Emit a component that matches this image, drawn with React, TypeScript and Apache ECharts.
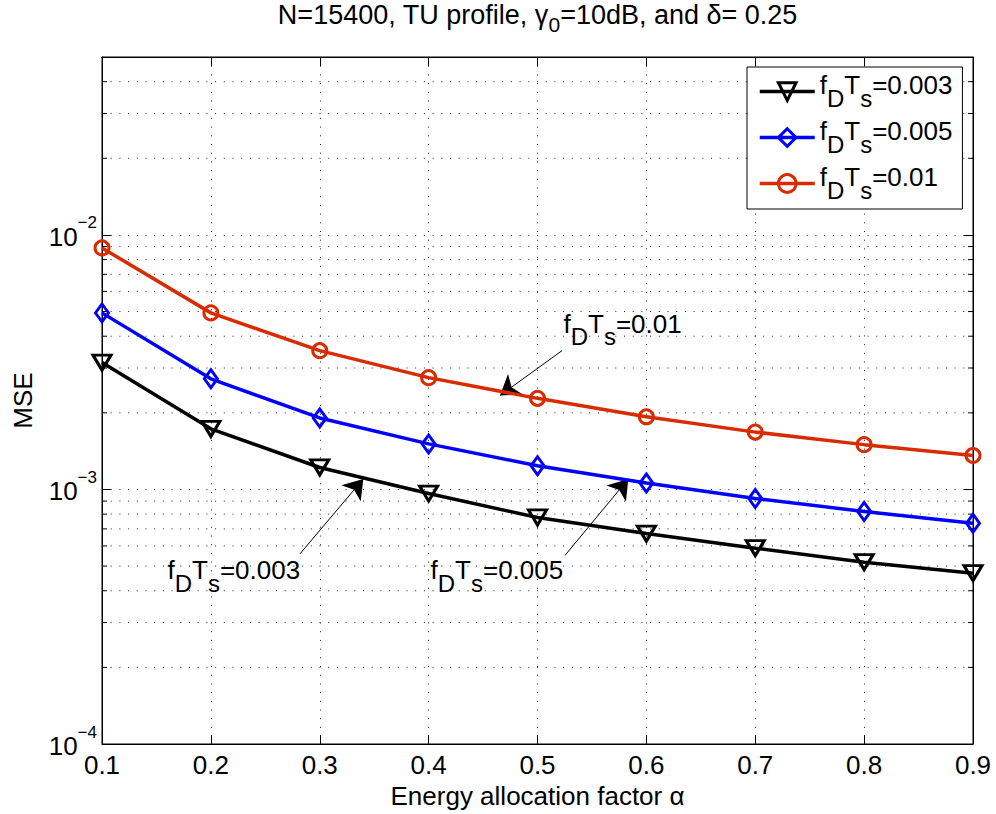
import React, { useEffect, useRef } from "react";
import * as echarts from "echarts";

const ALPHA = [0.1, 0.2, 0.3, 0.4, 0.5, 0.6, 0.7, 0.8, 0.9];
const MSE_003 = [0.00315, 0.00173, 0.00122, 0.000964, 0.000776, 0.000671, 0.000588, 0.000518, 0.000469];
const MSE_005 = [0.00494, 0.00272, 0.00191, 0.00151, 0.00124, 0.00106, 0.000922, 0.00082, 0.000736];
const MSE_01 = [0.00889, 0.00494, 0.00351, 0.00275, 0.00228, 0.00193, 0.00168, 0.0015, 0.00136];
const SERIES_NAMES = ["fDTs=0.003", "fDTs=0.005", "fDTs=0.01"];
const SERIES_VALUES_TEXT = ["0.003", "0.005", "0.01"];
const Y_MIN = 1e-4;
const Y_MAX = 0.05;
const MINOR_GRID = [
  2e-4, 3e-4, 4e-4, 5e-4, 6e-4, 7e-4, 8e-4, 9e-4,
  2e-3, 3e-3, 4e-3, 5e-3, 6e-3, 7e-3, 8e-3, 9e-3,
  2e-2, 3e-2, 4e-2,
];
const TITLE_A = "N=15400, TU profile, γ";
const TITLE_SUB = "0";
const TITLE_B = "=10dB, and δ= 0.25";
const X_NAME = "Energy allocation factor α";
const Y_NAME = "MSE";

const FONT = "'Liberation Sans', Arial, Helvetica, sans-serif";
const COLORS = ["#000000", "#0000ff", "#d92b00"];

const richFD = {
  m: { fontSize: 26, lineHeight: 26, padding: [0, 0, 13, 0], fontFamily: FONT, color: "#000" },
  s: { fontSize: 24, lineHeight: 26, padding: [13, 0, 0, 0], fontFamily: FONT, color: "#000" },
};
const fdText = (v: string) => `{m|f}{s|D}{m|T}{s|s}{m|=${v}}`;

export default function App() {
  const ref = useRef<HTMLDivElement>(null);
  useEffect(() => {
    if (!ref.current) return;
    const chart = echarts.init(ref.current, undefined, { renderer: "svg" });
    const dotted = { color: "#222", width: 1, type: [1, 7.7] as any };

    const makeSeries = (i: number, values: number[], symbol: string, size: any, rotate: number) => ({
      name: SERIES_NAMES[i],
      type: "line",
      data: ALPHA.map((a, k) => [a, values[k]]),
      symbol,
      symbolSize: size,
      symbolRotate: rotate,
      showAllSymbol: true,
      lineStyle: { color: COLORS[i], width: 3.5 },
      itemStyle: { color: "rgba(255,255,255,0)", borderColor: COLORS[i], borderWidth: 3 },
      z: 5 + i,
    });

    const s003: any = makeSeries(0, MSE_003, "triangle", [18, 15], 180);
    const s005: any = makeSeries(1, MSE_005, "diamond", [13, 18], 0);
    const s01: any = makeSeries(2, MSE_01, "circle", 14, 0);

    const arrow = (from: number[], to: number[]) => [{ coord: from }, { coord: to }];
    const annLabel = (v: string) => ({
      show: true,
      position: "right",
      distance: 0,
      offset: [0, 6.5],
      formatter: fdText(v),
      rich: richFD,
    });
    const markLineCommon = {
      silent: true,
      symbol: ["none", "arrow"],
      symbolSize: 19,
      lineStyle: { color: "#000", width: 1, type: "solid" },
      itemStyle: { color: "#000" },
      label: { show: false },
      animation: false,
    };
    const markPointCommon = {
      silent: true,
      symbol: "circle",
      symbolSize: 1,
      itemStyle: { color: "rgba(0,0,0,0)" },
      animation: false,
    };

    s01.markLine = { ...markLineCommon, data: [arrow([0.5225, 0.00351], [0.4656, 0.00234])] };
    s01.markPoint = { ...markPointCommon, label: annLabel(SERIES_VALUES_TEXT[2]), data: [{ coord: [0.5234, 0.00448] }] };
    s003.markLine = { ...markLineCommon, data: [arrow([0.2819, 0.000559], [0.34, 0.0011])] };
    s003.markPoint = { ...markPointCommon, label: annLabel(SERIES_VALUES_TEXT[0]), data: [{ coord: [0.1597, 0.000481] }] };
    s005.markLine = { ...markLineCommon, data: [arrow([0.5253, 0.000551], [0.5834, 0.0011])] };
    s005.markPoint = { ...markPointCommon, label: annLabel(SERIES_VALUES_TEXT[1]), data: [{ coord: [0.4013, 0.000481] }] };

    const minorSeries = {
      type: "custom",
      silent: true,
      z: 1,
      coordinateSystem: "cartesian2d",
      data: MINOR_GRID.map((v) => [0.5, v]),
      renderItem: (params: any, api: any) => {
        const y = api.coord([api.value(0), api.value(1)])[1];
        const cs = params.coordSys;
        return {
          type: "group",
          children: [
            { type: "line", shape: { x1: cs.x, y1: y, x2: cs.x + cs.width, y2: y }, style: { stroke: "#222", lineWidth: 1, lineDash: [1, 7.7] } },
            { type: "line", shape: { x1: cs.x, y1: y, x2: cs.x + 5, y2: y }, style: { stroke: "#000", lineWidth: 1 } },
            { type: "line", shape: { x1: cs.x + cs.width - 5, y1: y, x2: cs.x + cs.width, y2: y }, style: { stroke: "#000", lineWidth: 1 } },
          ],
        };
      },
    };

    const yLabelFmt = (v: number) => {
      const e = Math.round(Math.log10(v));
      if (Math.abs(v - Math.pow(10, e)) / v > 1e-6) return "";
      return `{b|10}{s|−${-e}}`;
    };

    chart.setOption({
      animation: false,
      textStyle: { fontFamily: FONT },
      graphic: [
        {
          type: "text",
          x: 537.5,
          y: 6,
          style: {
            text: `{t|${TITLE_A}}{ts|${TITLE_SUB}}{t|${TITLE_B}}`,
            align: "center",
            verticalAlign: "top",
            rich: {
              t: { fontSize: 27, lineHeight: 27, padding: [0, 0, 10, 0], fontFamily: FONT, fill: "#000", color: "#000" },
              ts: { fontSize: 21, lineHeight: 21, padding: [10, 0, 0, 0], fontFamily: FONT, fill: "#000", color: "#000" },
            },
          },
        },
      ],
      grid: { left: 102, right: 23, top: 57, bottom: 70, show: true, borderColor: "#000", borderWidth: 1 },
      legend: {
        data: SERIES_NAMES,
        left: 747,
        top: 67,
        orient: "vertical",
        padding: [5, 10, 6, 11],
        itemGap: 7,
        itemWidth: 55,
        itemHeight: 22,
        lineStyle: { width: 3.5 },
        itemStyle: { borderWidth: 3 },
        backgroundColor: "#fff",
        borderColor: "#000",
        borderWidth: 1,
        borderRadius: 0,
        selectedMode: false,
        formatter: (name: string) => fdText(SERIES_VALUES_TEXT[SERIES_NAMES.indexOf(name)]),
        textStyle: { rich: richFD },
      },
      xAxis: [
        {
          type: "value",
          min: 0.1,
          max: 0.9,
          interval: 0.1,
          name: X_NAME,
          nameLocation: "middle",
          nameGap: 38,
          nameTextStyle: { fontSize: 26, color: "#000", fontFamily: FONT },
          axisLine: { lineStyle: { color: "#000", width: 1 } },
          axisTick: { inside: true, length: 9, lineStyle: { color: "#000" } },
          axisLabel: { fontSize: 26, color: "#000", margin: 8, formatter: (v: number) => v.toFixed(1), fontFamily: FONT },
          splitLine: { show: true, lineStyle: dotted },
        },
        {
          type: "value",
          position: "top",
          min: 0.1,
          max: 0.9,
          interval: 0.1,
          axisLine: { lineStyle: { color: "#000", width: 1 } },
          axisTick: { inside: true, length: 9, lineStyle: { color: "#000" } },
          axisLabel: { show: false },
          splitLine: { show: false },
        },
      ],
      yAxis: [
        {
          type: "log",
          logBase: 10,
          min: Y_MIN,
          max: Y_MAX,
          name: Y_NAME,
          nameLocation: "middle",
          nameGap: 66,
          nameTextStyle: { fontSize: 26, color: "#000", fontFamily: FONT },
          axisLine: { show: true, lineStyle: { color: "#000", width: 1 } },
          axisTick: { inside: true, length: 9, lineStyle: { color: "#000" } },
          axisLabel: {
            margin: 5,
            formatter: yLabelFmt,
            showMaxLabel: false,
            rich: {
              b: { fontSize: 26, lineHeight: 26, padding: [4, 0, 0, 0], color: "#000", fontFamily: FONT },
              s: { fontSize: 17, lineHeight: 17, padding: [0, 0, 24, 0], color: "#000", fontFamily: FONT },
            },
          },
          splitLine: { show: true, lineStyle: dotted },
        },
        {
          type: "log",
          logBase: 10,
          min: Y_MIN,
          max: Y_MAX,
          position: "right",
          axisLine: { show: true, lineStyle: { color: "#000", width: 1 } },
          axisTick: { inside: true, length: 9, lineStyle: { color: "#000" } },
          axisLabel: { show: false },
          splitLine: { show: false },
        },
      ],
      series: [minorSeries, s003, s005, s01],
    });
    return () => chart.dispose();
  }, []);
  return (
    <div
      ref={ref}
      style={{ position: "fixed", left: 0, top: 0, width: 996, height: 814, background: "#fff" }}
    />
  );
}
